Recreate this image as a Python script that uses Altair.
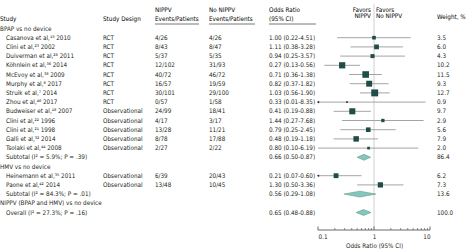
import altair as alt
import pandas as pd

# ---------------- data ----------------
labels = [
    "BPAP vs no device",
    "Casanova et al,¹⁹ 2010", "Clini et al,²³ 2002", "Duiverman et al,²⁶ 2011",
    "Köhnlein et al,³⁶ 2014", "McEvoy et al,³⁸ 2009", "Murphy et al,⁸ 2017",
    "Struik et al,⁷ 2014", "Zhou et al,⁴⁶ 2017", "Budweiser et al,¹⁸ 2007",
    "Clini et al,²² 1996", "Clini et al,²¹ 1998", "Galli et al,³² 2014",
    "Tsolaki et al,⁴⁴ 2008",
    "Subtotal (I² = 5.9%; P = .39)",
    "HMV vs no device",
    "Heinemann et al,³⁵ 2011", "Paone et al,⁴² 2014",
    "Subtotal (I² = 84.3%; P = .01)",
    "NIPPV (BPAP and HMV) vs no device",
    "Overall (I² = 27.3%; P = .16)",
]
kinds = ["group"] + ["study"] * 13 + ["sub", "group", "study", "study", "sub", "group", "sub"]
designs = ["", "RCT", "RCT", "RCT", "RCT", "RCT", "RCT", "RCT", "RCT",
           "Observational", "Observational", "Observational", "Observational", "Observational",
           "", "", "Observational", "Observational", "", "", ""]
nippv = ["", "4/26", "8/43", "5/37", "12/102", "40/72", "16/57", "30/101", "0/57",
         "24/99", "4/17", "13/28", "8/78", "2/27", "", "", "6/39", "13/48", "", "", ""]
no_nippv = ["", "4/26", "8/47", "5/35", "31/93", "46/72", "19/59", "29/100", "1/58",
            "18/41", "3/17", "11/21", "17/88", "2/22", "", "", "20/43", "10/45", "", "", ""]
odds = [None, 1.00, 1.11, 0.94, 0.27, 0.71, 0.82, 1.03, 0.33, 0.41, 1.44, 0.79, 0.48, 0.80,
        0.66, None, 0.21, 1.30, 0.56, None, 0.65]
ci_low = [None, 0.22, 0.38, 0.25, 0.13, 0.36, 0.37, 0.56, 0.01, 0.19, 0.27, 0.25, 0.19, 0.10,
          0.50, None, 0.07, 0.50, 0.29, None, 0.48]
ci_high = [None, 4.51, 3.28, 3.57, 0.56, 1.38, 1.82, 1.90, 8.35, 0.88, 7.68, 2.45, 1.18, 6.19,
           0.87, None, 0.60, 3.36, 1.08, None, 0.88]
weights = [None, 3.5, 6.0, 4.3, 10.2, 11.5, 9.3, 12.7, 0.9, 9.7, 2.9, 5.6, 7.9, 2.0,
           86.4, None, 6.2, 7.3, 13.6, None, 100.0]

axis_ticks = [0.1, 1, 10]
minor_ticks = [0.2, 0.3, 0.4, 0.5, 0.6, 0.7, 0.8, 0.9, 2, 3, 4, 5, 6, 7, 8, 9]

# ---------------- tables ----------------
rows = []
for i, lab in enumerate(labels):
    o, lo, hi, w = odds[i], ci_low[i], ci_high[i], weights[i]
    rows.append(dict(
        row=i, label=lab, kind=kinds[i], design=designs[i], nippv=nippv[i], no_nippv=no_nippv[i],
        est=o, lo=lo, hi=hi, lo_clip=(max(lo, 0.1) if lo is not None else None),
        weight=w,
        ortext=(f"{o:.2f} ({lo:.2f}-{hi:.2f})" if o is not None else ""),
        wtext=(f"{w:.1f}" if w is not None else ""),
    ))
df = pd.DataFrame(rows)
studies = df[df.kind == "study"]
subs = df[df.kind == "sub"]
arrows = studies[studies.lo < 0.1]

H = 0.32
dia = []
for _, r in subs.iterrows():
    dia.append(dict(row=r.row, x=r.lo, y1=r.row, y2=r.row))
    dia.append(dict(row=r.row, x=r.est, y1=r.row - H, y2=r.row + H))
    dia.append(dict(row=r.row, x=r.hi, y1=r.row, y2=r.row))
dia = pd.DataFrame(dia)

FONT = "Liberation Sans Narrow, DejaVu Sans Condensed, sans-serif"
FS = 6.3
TXT = "#231f20"
SQ = "#1f4c47"
WX = 437

YS = alt.Scale(domain=[0, 20], range=[28.5, 212.5], nice=False, zero=False)
XS = alt.Scale(type="log", domain=[0.1, 10], range=[318, 430], nice=False)
XAX = alt.Axis(values=axis_ticks, format="~g", domain=False, ticks=False, grid=False,
               labelFont=FONT, labelFontSize=FS, labelColor=TXT, labelPadding=3,
               title="Odds Ratio (95% CI)", titleFont=FONT, titleFontSize=FS,
               titleFontWeight="normal", titleColor=TXT, titlePadding=3)


def Y(field="row"):
    return alt.Y(f"{field}:Q", scale=YS, axis=None)


def X(field):
    return alt.X(f"{field}:Q", scale=XS, axis=XAX)


def text_layer(data, field, x, align="left", color=TXT):
    return alt.Chart(data).mark_text(
        align=align, baseline="middle", font=FONT, fontSize=FS, color=color,
    ).encode(x=alt.value(x), y=Y(), text=f"{field}:N")


# header table
hdr = pd.DataFrame([
    dict(row=-1.0, t="Study", x=0, a="left"),
    dict(row=-1.0, t="Study Design", x=103, a="left"),
    dict(row=-2.0, t="NIPPV", x=155, a="left"),
    dict(row=-1.0, t="Events/Patients", x=155, a="left"),
    dict(row=-2.0, t="No NIPPV", x=209, a="left"),
    dict(row=-1.0, t="Events/Patients", x=209, a="left"),
    dict(row=-2.0, t="Odds Ratio", x=269, a="left"),
    dict(row=-1.0, t="(95% CI)", x=269, a="left"),
    dict(row=-2.05, t="Favors", x=371, a="right"),
    dict(row=-1.4, t="NIPPV", x=371, a="right"),
    dict(row=-2.05, t="Favors", x=376, a="left"),
    dict(row=-1.4, t="No NIPPV", x=376, a="left"),
    dict(row=-1.3, t="Weight, %", x=WX, a="left"),
])

layers = []
# reference line at OR = 1
layers.append(alt.Chart(pd.DataFrame({"x": [1]})).mark_rule(color="#c4c4c4", strokeWidth=0.8)
              .encode(x=X("x"), y=alt.value(4), y2=alt.value(228)))
# CI lines
layers.append(alt.Chart(studies).mark_rule(color="#9a9a9a", strokeWidth=0.9)
              .encode(x=X("lo_clip"), x2="hi:Q", y=Y()))
# arrows for clipped CI
layers.append(alt.Chart(arrows).mark_point(shape="triangle-left", filled=True, color="#222",
                                           size=7, opacity=1)
              .encode(x=X("lo_clip"), y=Y()))
# squares
layers.append(alt.Chart(studies).mark_point(shape="square", filled=True, color=SQ, opacity=1)
              .encode(x=X("est"), y=Y(),
                      size=alt.Size("weight:Q", scale=alt.Scale(domain=[0, 12.7], range=[0, 48]),
                                    legend=None)))
# diamonds
layers.append(alt.Chart(dia).mark_area(color="#86c6ba", stroke="#5a9e93", strokeWidth=0.6,
                                       opacity=1, interpolate="linear")
              .encode(x=X("x"), y=Y("y1"), y2="y2:Q", detail="row:N"))
# axis line and ticks
layers.append(alt.Chart(pd.DataFrame({"a": [0.1], "b": [10]})).mark_rule(color="#444", strokeWidth=0.8)
              .encode(x=X("a"), x2="b:Q", y=alt.value(230)))
layers.append(alt.Chart(pd.DataFrame({"t": axis_ticks})).mark_rule(color="#444", strokeWidth=0.8)
              .encode(x=X("t"), y=alt.value(226.5), y2=alt.value(230)))
layers.append(alt.Chart(pd.DataFrame({"t": minor_ticks})).mark_rule(color="#444", strokeWidth=0.6)
              .encode(x=X("t"), y=alt.value(228), y2=alt.value(230)))

# header underlines
for x1, x2 in [(155, 199), (209, 255), (269, 316)]:
    layers.append(alt.Chart(pd.DataFrame({"a": [0]})).mark_rule(color="#555", strokeWidth=0.8)
                  .encode(x=alt.value(x1), x2=alt.value(x2), y=alt.value(24)))

# header texts
for _, h in hdr.iterrows():
    layers.append(alt.Chart(pd.DataFrame([h])).mark_text(
        align=h.a, baseline="middle", font=FONT, fontSize=FS, color="#000",
        fontWeight="normal")
        .encode(x=alt.value(int(h.x)), y=Y(), text="t:N"))

# body texts
layers.append(text_layer(df[df.kind == "group"], "label", 0))
layers.append(text_layer(df[df.kind != "group"], "label", 6))
layers.append(text_layer(df, "design", 103))
layers.append(text_layer(df, "nippv", 155))
layers.append(text_layer(df, "no_nippv", 209))
layers.append(text_layer(df, "ortext", 269))
layers.append(text_layer(df, "wtext", WX))

chart = alt.layer(*layers).properties(
    width=467, height=230,
    padding={"left": 0, "right": 0, "top": 0, "bottom": 21},
    autosize=alt.AutoSizeParams(type="none"),
    background="white",
).configure_view(stroke=None)

chart.save("out.html", embed_options={"renderer": "svg", "actions": False})
